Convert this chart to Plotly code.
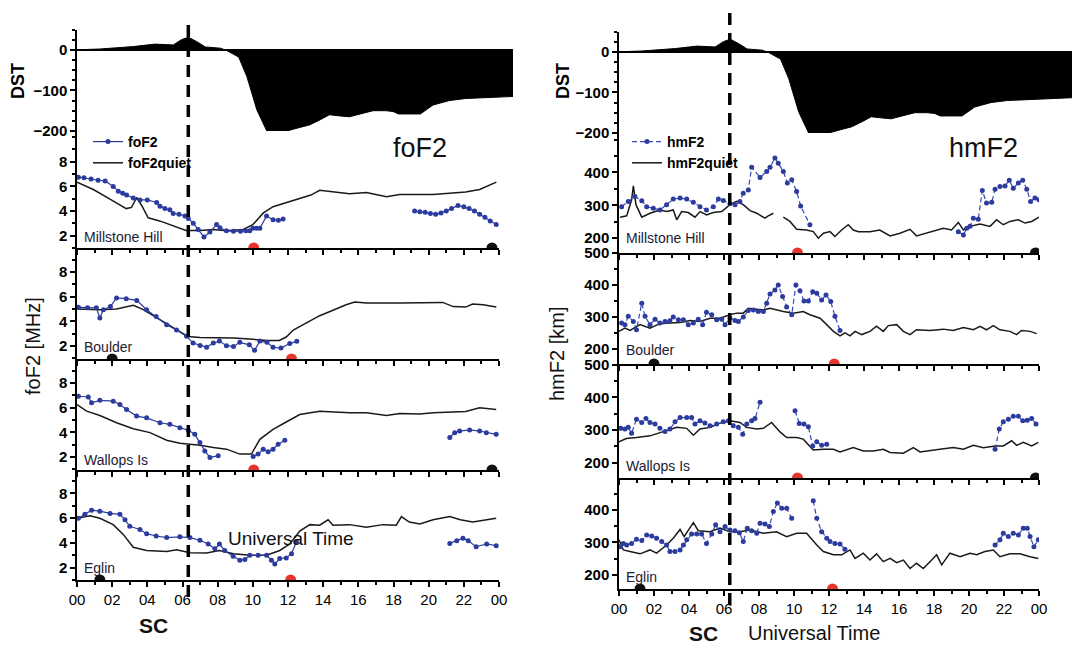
import plotly.graph_objects as go

W, H = 1072, 646
FONT = "Liberation Sans, Arial, sans-serif"

# ---------------- DATA ----------------
dst_t = [0.0, 1.27, 3.1, 4.3, 5.3, 5.75, 6.13, 6.6, 7.06, 7.9, 8.25, 8.9, 9.35, 9.9, 10.45,
         11.55, 12.2, 12.8, 13.4, 13.9, 14.5, 15.0, 15.6, 16.3, 17.0, 17.4, 17.7, 18.9, 19.6,
         20.5, 21.4, 22.3, 23.9, 25.0]
dst_v = [0, 2, 8, 14, 12, 25, 31, 20, 7, 4, -2, -18, -66, -148, -200,
         -200, -192, -185, -172, -160, -163, -165, -158, -150, -150, -152, -158, -158, -136,
         -125, -120, -118, -115, -113]

sc_time = 6.33

# ---- foF2 (MHz) ----
fo_mh_t = [0.08, 0.4, 0.8, 1.2, 1.6, 2.06, 2.35, 2.6, 2.82, 3.2, 3.58, 4.0, 4.53, 4.72, 5.0, 5.28,
           5.47, 5.8, 6.14, 6.33, 6.61, 6.89, 7.22, 7.56, 7.94, 8.13, 8.5, 8.9, 9.3, 9.6, 9.83,
           10.0, 10.2, 10.4, 10.78, 11.15, 11.45, 11.72, None,
           19.2, 19.5, 19.8, 20.1, 20.4, 20.7, 21.0, 21.3, 21.67, 22.0, 22.3, 22.6, 22.9, 23.2,
           23.5, 23.84]
fo_mh_v = [6.75, 6.7, 6.6, 6.5, 6.45, 6.0, 5.6, 5.45, 5.3, 5.05, 4.9, 4.9, 4.7, 4.4, 4.2, 4.1,
           3.8, 3.75, 3.6, 3.4, 3.0, 2.5, 1.9, 2.3, 2.9, 2.65, 2.4, 2.35, 2.35, 2.4, 2.4,
           2.6, 2.6, 2.6, 3.6, 3.3, 3.25, 3.35, None,
           4.0, 3.95, 3.9, 3.8, 3.75, 3.85, 4.0, 4.2, 4.45, 4.35, 4.2, 4.0, 3.75, 3.5,
           3.2, 2.9]
foq_mh_t = [0.0, 0.93, 1.9, 2.8, 3.1, 3.4, 3.7, 4.05, 4.7, 5.7, 6.2, 7.0, 7.75, 8.5, 9.45, 10.0,
            10.6, 11.15, 11.9, 12.67, 13.3, 13.8, 14.56, 15.5, 16.46, 17.6, 18.35, 20.25, 22.1,
            22.9, 23.85]
foq_mh_v = [6.35, 5.75, 4.95, 4.2, 4.3, 5.1, 4.4, 3.45, 3.2, 2.65, 2.43, 2.43, 2.5, 2.4, 2.5, 2.9,
            3.85, 4.35, 4.7, 5.0, 5.3, 5.68, 5.57, 5.4, 5.5, 5.16, 5.35, 5.35, 5.54,
            5.75, 6.35]

fo_bo_t = [0.08, 0.6, 1.1, 1.3, 1.5, 1.9, 2.25, 2.8, 3.4, 3.96, 4.5, 5.1, 5.66, 6.23, 6.6, 7.0,
           7.37, 7.75, 8.1, 8.5, 8.9, 9.26, 9.8, 10.1, 10.4, 10.8, 11.15, 11.6, 12.1, 12.5]
fo_bo_v = [5.14, 5.1, 5.1, 4.27, 4.95, 5.2, 5.9, 5.84, 5.7, 4.95, 4.4, 3.73, 3.3, 2.8, 2.24, 2.05,
           1.9, 2.24, 2.4, 2.03, 1.97, 2.3, 2.1, 1.65, 2.4, 2.3, 1.9, 1.84, 2.2, 2.38]
foq_bo_t = [0.0, 1.3, 2.25, 3.2, 3.77, 4.7, 5.66, 6.3, 7.0, 7.9, 8.9, 9.8, 10.8, 11.5, 11.9, 12.3,
            13.05, 13.8, 14.56, 15.3, 15.8, 16.46, 18.35, 20.25, 20.8, 21.4, 22.1, 22.5, 23.1,
            23.85]
foq_bo_v = [5.0, 4.95, 5.0, 5.3, 4.95, 4.13, 3.3, 2.78, 2.7, 2.7, 2.65, 2.57, 2.46, 2.46, 2.73, 3.3,
            3.9, 4.46, 4.9, 5.35, 5.57, 5.5, 5.5, 5.49, 5.54, 5.2, 5.16, 5.4, 5.35,
            5.16]

fo_wa_t = [0.08, 0.64, 0.83, 1.3, 2.06, 2.44, 2.82, 3.39, 3.96, 4.72, 5.28, 5.85, 6.33, 6.7, 6.99,
           7.27, 7.56, 8.03, None,
           10.02, 10.3, 10.59, 10.87, 11.15, 11.44, 11.82, None,
           21.2, 21.48, 21.76, 22.33, 22.9, 23.28, 23.84]
fo_wa_v = [6.93, 6.87, 6.4, 6.6, 6.53, 6.26, 5.86, 5.32, 5.18, 4.78, 4.65, 4.38, 4.17, 3.85, 3.17,
           2.5, 1.97, 2.1, None,
           2.05, 2.24, 2.64, 2.42, 2.64, 3.04, 3.36, None,
           3.58, 3.98, 4.11, 4.2, 4.11, 3.98, 3.84]
foq_wa_t = [0.0, 0.55, 1.3, 2.25, 3.2, 4.15, 5.1, 5.85, 6.42, 7.0, 7.75, 8.5, 9.26, 9.92, 10.4,
            11.15, 11.9, 12.67, 13.8, 14.56, 15.5, 16.46, 17.6, 18.35, 19.5, 20.25, 21.2, 22.1,
            22.9, 23.84]
foq_wa_v = [6.26, 5.72, 5.37, 4.78, 4.3, 3.98, 3.36, 3.12, 3.04, 2.96, 2.77, 2.64, 2.24, 2.24, 3.44,
            4.25, 4.84, 5.45, 5.72, 5.64, 5.59, 5.59, 5.37, 5.53, 5.5, 5.59, 5.64, 5.7,
            5.99, 5.86]

fo_eg_t = [0.08, 0.45, 0.83, 1.3, 1.88, 2.44, 2.73, 3.0, 3.58, 3.96, 4.5, 5.1, 5.85, 6.42, 6.99,
           7.46, 7.84, 8.1, 8.4, 8.88, 9.26, 9.55, 9.83, 10.3, 10.78, 11.06, 11.25, 11.53, 11.9,
           12.2, 12.48, None,
           21.2, 21.6, 21.95, 22.25, 22.7, 23.3, 23.84]
fo_eg_v = [6.0, 6.31, 6.65, 6.57, 6.39, 6.31, 5.87, 5.35, 5.09, 4.75, 4.56, 4.43, 4.49, 4.43, 4.22,
           3.91, 3.52, 3.91, 3.39, 2.92, 2.6, 2.66, 3.0, 3.0, 3.0, 2.6, 2.29, 2.74, 2.79,
           3.13, 4.09, None,
           3.96, 4.17, 4.38, 4.17, 3.7, 3.91, 3.78]
foq_eg_t = [0.0, 0.74, 1.3, 2.06, 2.63, 3.2, 3.96, 5.1, 5.66, 6.42, 7.37, 8.1, 8.9, 9.83, 10.78,
            11.53, 12.1, 12.67, 13.24, 13.8, 14.28, 14.56, 15.5, 16.46, 17.4, 18.16, 18.45,
            18.9, 19.5, 20.25, 21.2, 21.8, 22.5, 23.2, 23.84]
foq_eg_v = [6.0, 6.2, 6.0, 5.48, 4.69, 3.65, 3.39, 3.31, 3.44, 3.2, 3.18, 3.39, 3.13, 3.0, 3.0,
            3.39, 3.91, 4.96, 5.48, 5.43, 5.87, 5.43, 5.48, 5.27, 5.48, 5.43, 6.13,
            5.69, 5.53, 5.87, 6.13, 5.87, 5.69, 5.87, 6.0]

# ---- hmF2 (km) ----
hm_mh_t = [0.15, 0.53, 0.91, 1.3, 1.58, 1.96, 2.34, 2.72, 3.1, 3.49, 3.87, 4.25, 4.63, 5.0, 5.39,
           5.68, 5.96, 6.34, 6.63, 6.91, 7.1, 7.39, 7.58, 8.06, 8.44, 8.63, 8.91, 9.1, 9.39, 9.62,
           9.87, 10.15, 10.38, 10.91, None,
           19.39, 19.68, 19.87, 20.06, 20.25, 20.53, 20.76, 21.0, 21.3, 21.49, 21.77, 22.06,
           22.3, 22.53, 22.82, 23.07, 23.3, 23.52, 23.77, 24.0]
hm_mh_v = [296, 312, 327, 314, 296, 291, 286, 302, 319, 322, 319, 309, 296, 286, 296,
           319, 315, 305, 302, 312, 337, 347, 416, 385, 403, 416, 444, 428, 403, 368,
           378, 342, 298, 241, None,
           220, 210, 230, 236, 261, 258, 345, 307, 309, 349, 357, 359,
           376, 352, 368, 376, 349, 312, 322, 317]
hmq_mh_t = [0.06, 0.44, 0.72, 0.82, 0.97, 1.3, 1.77, 2.34, 2.72, 3.1, 3.3, 3.58, 3.96, 4.34, 4.63,
            5.0, 5.39, 5.87, 6.34, 6.72, 7.1, 7.49, 7.87, 8.34, 8.53, 8.82, None,
            9.39, 9.77, 10.15, 10.72, 11.1, 11.39, 11.68, 12.06, 12.34, 12.72, 13.1, 13.39, 13.68,
            14.34, 14.9, 15.49, 16.06, 16.63, 17.0, 17.39, 17.96, 18.53, 19.0, 19.39, 19.68,
            20.06, 20.63, 21.2, 21.58, 21.96, 22.34, 22.82, 23.2, 23.58, 24.0]
hmq_mh_v = [264, 268, 317, 359, 302, 264, 276, 286, 281, 286, 256, 281, 278, 264, 281,
            271, 278, 281, 302, 312, 302, 284, 276, 261, 268, 276, None,
            264, 251, 227, 225, 220, 200, 215, 220, 205, 225, 241, 225, 220,
            220, 225, 207, 215, 227, 207, 213, 220, 230, 225, 248, 225,
            236, 243, 236, 256, 241, 251, 256, 246, 251, 264]

hm_bo_t = [0.15, 0.34, 0.53, 0.82, 1.0, 1.3, 1.49, 1.77, 2.06, 2.34, 2.63, 2.91, 3.1, 3.39, 3.68,
           3.96, 4.25, 4.53, 4.78, 5.0, 5.3, 5.58, 5.87, 6.06, 6.34, 6.63, 6.82, 7.1, 7.39, 7.68,
           7.96, 8.25, 8.44, 8.63, 8.91, 9.1, 9.35, 9.58, 9.87, 10.11, 10.34, 10.57, 10.82,
           11.07, 11.3, 11.58, 11.83, 12.1, 12.34, 12.63]
hm_bo_v = [281, 276, 302, 286, 260, 343, 302, 276, 293, 281, 286, 288, 300, 291, 291,
           276, 281, 293, 276, 315, 307, 291, 293, 276, 296, 289, 286, 300, 320, 322,
           317, 317, 343, 372, 384, 400, 364, 331, 307, 400, 382, 350, 350,
           379, 374, 353, 369, 348, 302, 258]
hmq_bo_t = [0.0, 0.34, 0.63, 1.2, 1.77, 2.34, 2.91, 3.49, 4.06, 4.63, 5.2, 5.77, 6.34, 6.72, 7.1,
            7.39, 7.87, 8.25, 8.63, 9.0, 9.39, 9.96, 10.53, 10.91, 11.49, 11.87, 12.25, 12.63,
            12.91, 13.2, 13.49, 13.87, 14.34, 14.72, 15.1, 15.39, 15.87, 16.25, 16.63, 17.0,
            17.77, 18.53, 19.1, 19.68, 20.25, 20.63, 21.0, 21.39, 21.77, 22.34, 22.72, 23.0,
            23.49, 23.87]
hmq_bo_v = [255, 265, 258, 276, 265, 279, 281, 283, 289, 286, 296, 296, 307, 312, 312,
            327, 324, 322, 327, 322, 317, 312, 317, 307, 296, 276, 255, 241,
            250, 241, 255, 245, 255, 271, 255, 273, 276, 255, 245, 260,
            258, 262, 258, 267, 260, 271, 260, 273, 260, 255, 245, 258,
            255, 248]

hm_wa_t = [0.1, 0.34, 0.53, 0.72, 1.0, 1.3, 1.54, 1.77, 2.06, 2.34, 2.63, 2.91, 3.2, 3.49, 3.87,
           4.15, 4.34, 4.63, 4.91, 5.2, 5.58, 5.96, 6.25, 6.53, 6.82, 7.07, 7.3, 7.58, 7.77, 8.06,
           None,
           10.06, 10.3, 10.57, 10.82, 11.07, 11.3, 11.58, 11.87, None,
           21.49, 21.73, 21.96, 22.25, 22.53, 22.82, 23.07, 23.33, 23.58, 23.83]
hm_wa_v = [305, 303, 308, 290, 333, 323, 335, 323, 318, 305, 295, 303, 325, 338, 338,
           338, 318, 328, 321, 313, 318, 325, 328, 313, 308, 287, 318, 328, 335, 385,
           None,
           359, 320, 318, 310, 251, 264, 253, 256, None,
           241, 303, 325, 333, 342, 342, 328, 330, 335, 318]
hmq_wa_t = [0.0, 0.42, 1.0, 1.77, 2.53, 3.3, 3.87, 4.25, 4.63, 5.2, 5.77, 6.34, 6.91, 7.3, 7.87,
            8.25, 8.72, 9.2, 9.58, 10.15, 10.53, 10.82, 11.1, 11.68, 12.25, 12.63, 13.39, 13.96,
            14.53, 15.1, 15.49, 16.25, 16.82, 17.2, 17.77, 18.34, 19.1, 19.68, 20.25, 20.82,
            21.49, 21.96, 22.44, 22.72, 23.1, 23.58, 23.96]
hmq_wa_v = [264, 274, 277, 282, 295, 308, 305, 284, 303, 308, 321, 328, 323, 308, 303,
            305, 323, 294, 277, 277, 272, 256, 239, 241, 241, 233, 246, 236,
            236, 241, 231, 229, 246, 233, 236, 241, 246, 241, 253, 246,
            251, 251, 267, 253, 262, 251, 262]

hm_eg_t = [0.06, 0.25, 0.44, 0.72, 1.0, 1.3, 1.58, 1.87, 2.15, 2.44, 2.72, 2.91, 3.2, 3.49, 3.68,
           3.87, 4.15, 4.44, 4.72, 5.0, 5.3, 5.52, 5.77, 6.06, 6.34, 6.63, 6.88, 7.1, 7.33, 7.58,
           7.87, 8.06, 8.34, 8.59, 8.82, 9.05, 9.3, 9.58, 9.87, None,
           11.1, 11.3, 11.58, 11.87, 12.06, 12.34, 12.63, 12.91, None,
           21.49, 21.77, 21.96, 22.25, 22.53, 22.82, 23.1, 23.33, 23.49, 23.71, 23.96]
hm_eg_v = [287, 297, 292, 297, 310, 306, 323, 320, 313, 303, 292, 272, 272, 277, 292,
           308, 326, 326, 326, 297, 326, 354, 333, 349, 338, 336, 330, 303, 344, 336,
           328, 359, 357, 349, 395, 421, 405, 405, 374, None,
           428, 374, 333, 313, 303, 297, 295, 279, None,
           292, 308, 328, 318, 328, 323, 344, 344, 318, 287, 308]
hmq_eg_t = [0.0, 0.25, 0.63, 1.2, 1.77, 2.15, 2.72, 3.1, 3.49, 3.72, 4.25, 4.53, 5.2, 5.77, 6.34,
            6.91, 7.49, 8.25, 9.0, 9.58, 10.15, 10.72, 11.3, 11.68, 12.25, 12.72, 13.2, 13.49,
            13.96, 14.34, 14.72, 15.1, 15.49, 15.87, 16.25, 16.63, 17.0, 17.39, 17.77, 18.15,
            18.44, 18.91, 19.49, 20.06, 20.44, 20.91, 21.39, 21.77, 22.34, 22.91, 23.49, 23.96]
hmq_eg_v = [308, 277, 272, 265, 277, 267, 292, 313, 340, 318, 361, 336, 333, 344, 333,
            333, 338, 328, 333, 318, 328, 328, 292, 272, 262, 262, 277, 251,
            267, 246, 265, 241, 251, 238, 246, 220, 236, 220, 241, 262,
            231, 267, 256, 267, 262, 272, 277, 256, 265, 265, 256, 251]

# dots on the time axis of each station panel (UT hours)
dots_left = {"red": [10.05, 12.2, 10.05, 12.15], "black": [23.6, 2.0, 23.6, 1.3]}
dots_right = {"red": [10.2, 12.3, 10.2, 12.2], "black": [23.8, 2.0, 23.8, 1.2]}

stations = ["Millstone Hill", "Boulder", "Wallops Is", "Eglin"]
x_ticks = [0, 2, 4, 6, 8, 10, 12, 14, 16, 18, 20, 22, 24]
x_ticktext = ["00", "02", "04", "06", "08", "10", "12", "14", "16", "18", "20", "22", "00"]

fo_series = [(fo_mh_t, fo_mh_v, foq_mh_t, foq_mh_v), (fo_bo_t, fo_bo_v, foq_bo_t, foq_bo_v),
             (fo_wa_t, fo_wa_v, foq_wa_t, foq_wa_v), (fo_eg_t, fo_eg_v, foq_eg_t, foq_eg_v)]
hm_series = [(hm_mh_t, hm_mh_v, hmq_mh_t, hmq_mh_v), (hm_bo_t, hm_bo_v, hmq_bo_t, hmq_bo_v),
             (hm_wa_t, hm_wa_v, hmq_wa_t, hmq_wa_v), (hm_eg_t, hm_eg_v, hmq_eg_t, hmq_eg_v)]

# ---------------- LAYOUT HELPERS ----------------
def px(x):
    return x / W

def py(y):
    return 1 - y / H

BLUE = "#2c3b9e"
BLUE2 = "#3448b8"
QUIET = "#1a1a1a"

fig = go.Figure()
layout = dict(
    width=W, height=H, margin=dict(l=0, r=0, t=0, b=0, pad=0, autoexpand=False),
    paper_bgcolor="white", plot_bgcolor="white",
    font=dict(family=FONT, color="black", size=13),
    shapes=[], annotations=[],
)

cols = [
    dict(x0=77, x1=499, dx1=513, dst_rng=[0, 24],
         ydom=[(29.5, 131), (131, 248), (248, 359), (359, 470), (470, 580)],
         rngs=[[1, 10.5], [0.95, 9.95], [0.95, 9.95], [1.0, 9.9]],
         tick=[2, 4, 6, 8], minor=1, series=fo_series, dots=dots_left,
         legend="legend", names=("foF2", "foF2quiet"), dash="solid", lcol=BLUE,
         label_y=[0.09, 0.11, 0.09, 0.11], sc=(25, 597)),
    dict(x0=619, x1=1039, dx1=1072, dst_rng=[0, 24.96],
         ydom=[(31.5, 133), (133, 253), (253, 364), (364, 478), (478, 589)],
         rngs=[[155, 520], [153, 500], [153, 502], [157, 498]],
         tick=[200, 300, 400, 500], minor=50, series=hm_series, dots=dots_right,
         legend="legend2", names=("hmF2", "hmF2quiet"), dash="5px,3px", lcol=BLUE2,
         label_y=[0.125, 0.125, 0.105, 0.11], sc=(12, 605)),
]

ax = 0
for ci, c in enumerate(cols):
    # DST panel
    ax += 1
    xa = f"xaxis{'' if ax == 1 else ax}"
    ya = f"yaxis{'' if ax == 1 else ax}"
    xr = "x" if ax == 1 else f"x{ax}"
    yr = "y" if ax == 1 else f"y{ax}"
    fig.add_trace(go.Scatter(x=dst_t, y=dst_v, mode="lines", fill="tozeroy",
                             fillcolor="black", line=dict(color="black", width=1),
                             showlegend=False, xaxis=xr, yaxis=yr, hoverinfo="skip"))
    top, bot = c["ydom"][0]
    layout[xa] = dict(domain=[px(c["x0"]), px(c["dx1"])], range=c["dst_rng"], anchor=yr,
                      showline=False, showgrid=False, zeroline=False, showticklabels=False,
                      ticks="", automargin=False)
    layout[ya] = dict(domain=[py(bot), py(top)], range=[-200, 50], anchor=xr,
                      showline=True, linecolor="black", linewidth=1.5, mirror=False,
                      showgrid=False, zeroline=True, zerolinecolor="black", zerolinewidth=1.5,
                      tickvals=[0, -100, -200], ticks="outside", ticklen=5, tickwidth=1.5,
                      tickcolor="black", automargin=False,
                      minor=dict(dtick=25, ticks="outside", ticklen=3, tickcolor="black"),
                      tickfont=dict(size=15, family=FONT, weight="bold"))
    layout["annotations"].append(dict(text="<b>DST</b>", xref="paper", yref="paper",
                                      x=px(18 if ci == 0 else 563), y=py(81), textangle=-90,
                                      showarrow=False, font=dict(size=18),
                                      xanchor="center", yanchor="middle"))
    first_station_axis = None
    for si in range(4):
        ax += 1
        xa = f"xaxis{ax}"
        ya = f"yaxis{ax}"
        xr = f"x{ax}"
        yr = f"y{ax}"
        if first_station_axis is None:
            first_station_axis = xr
        t, v, tq, vq = c["series"][si]
        fig.add_trace(go.Scatter(x=tq, y=vq, mode="lines",
                                 line=dict(color=QUIET, width=1.5),
                                 name=c["names"][1], legend=c["legend"],
                                 showlegend=(si == 0), legendrank=2,
                                 xaxis=xr, yaxis=yr, hoverinfo="skip"))
        fig.add_trace(go.Scatter(x=t, y=v, mode="lines+markers",
                                 line=dict(color=c["lcol"], width=1.2, dash=c["dash"]),
                                 marker=dict(color=BLUE, size=5),
                                 name=c["names"][0], legend=c["legend"],
                                 showlegend=(si == 0), legendrank=1,
                                 xaxis=xr, yaxis=yr, hoverinfo="skip"))
        rng = c["rngs"][si]
        dots = c["dots"]
        fig.add_trace(go.Scatter(x=[dots["red"][si], dots["black"][si]], y=[rng[0], rng[0]],
                                 mode="markers", cliponaxis=True,
                                 marker=dict(color=["#e8342a", "#111111"], size=11),
                                 showlegend=False, xaxis=xr, yaxis=yr, hoverinfo="skip"))
        top, bot = c["ydom"][si + 1]
        bottom_panel = (si == 3)
        layout[xa] = dict(domain=[px(c["x0"]), px(c["x1"])], range=[0, 24], anchor=yr,
                          showline=True, linecolor="black", linewidth=1.5, showgrid=False,
                          zeroline=False, tickvals=x_ticks, ticktext=x_ticktext,
                          ticks="outside", ticklen=5, tickwidth=1.5, tickcolor="black",
                          minor=dict(dtick=1, ticks="outside", ticklen=3, tickcolor="black"),
                          showticklabels=bottom_panel, automargin=False,
                          tickfont=dict(size=15, family=FONT))
        tv = c["tick"] if not (ci == 1 and si == 0) else c["tick"][:3]
        layout[ya] = dict(domain=[py(bot), py(top)], range=rng, anchor=xr,
                          showline=True, linecolor="black", linewidth=1.5, showgrid=False,
                          zeroline=False, tickvals=tv, ticks="outside", ticklen=5,
                          tickwidth=1.5, tickcolor="black", automargin=False,
                          minor=dict(dtick=c["minor"], ticks="outside", ticklen=3,
                                     tickcolor="black"),
                          tickfont=dict(size=15, family=FONT, weight="bold"))
        layout["annotations"].append(dict(text=stations[si], xref=f"{xr} domain",
                                          yref=f"{yr} domain", x=0.012, y=c["label_y"][si],
                                          xanchor="left", yanchor="middle", showarrow=False,
                                          font=dict(size=14, color="#221a33")))
    # SC dashed line
    layout["shapes"].append(dict(type="line", xref=first_station_axis, yref="paper",
                                 x0=sc_time, x1=sc_time, y0=py(c["sc"][1]), y1=py(c["sc"][0]),
                                 line=dict(color="black", width=3.5, dash="12px,8px")))

# legends
layout["legend"] = dict(x=px(88), y=py(126), xanchor="left", yanchor="top",
                        bgcolor="rgba(0,0,0,0)", font=dict(size=14, family=FONT, weight="bold"),
                        tracegroupgap=0, itemwidth=30, traceorder="normal")
layout["legend2"] = dict(x=px(627), y=py(126), xanchor="left", yanchor="top",
                         bgcolor="rgba(0,0,0,0)", font=dict(size=14, family=FONT, weight="bold"),
                         tracegroupgap=0, itemwidth=30, traceorder="normal")

# texts
texts = [
    ("foF2", 420, 148, 27, False, 0),
    ("hmF2", 983, 148, 27, False, 0),
    ("Universal Time", 291, 538, 19, False, 0),
    ("Universal Time", 814, 633, 20, False, 0),
    ("SC", 153, 625, 21, True, 0),
    ("SC", 703, 633, 21, True, 0),
    ("foF2 [MHz]", 33, 346, 20, False, -90),
    ("hmF2 [km]", 557, 354, 20, False, -90),
]
for txt, x, y, size, bold, ang in texts:
    layout["annotations"].append(dict(text=f"<b>{txt}</b>" if bold else txt, xref="paper",
                                      yref="paper", x=px(x), y=py(y), showarrow=False,
                                      textangle=ang, xanchor="center", yanchor="middle",
                                      font=dict(size=size, family=FONT, color="#111")))

fig.update_layout(**layout)
fig.write_html("out.html", config={"displayModeBar": False},
               post_script="document.body.style.margin='0px';")
